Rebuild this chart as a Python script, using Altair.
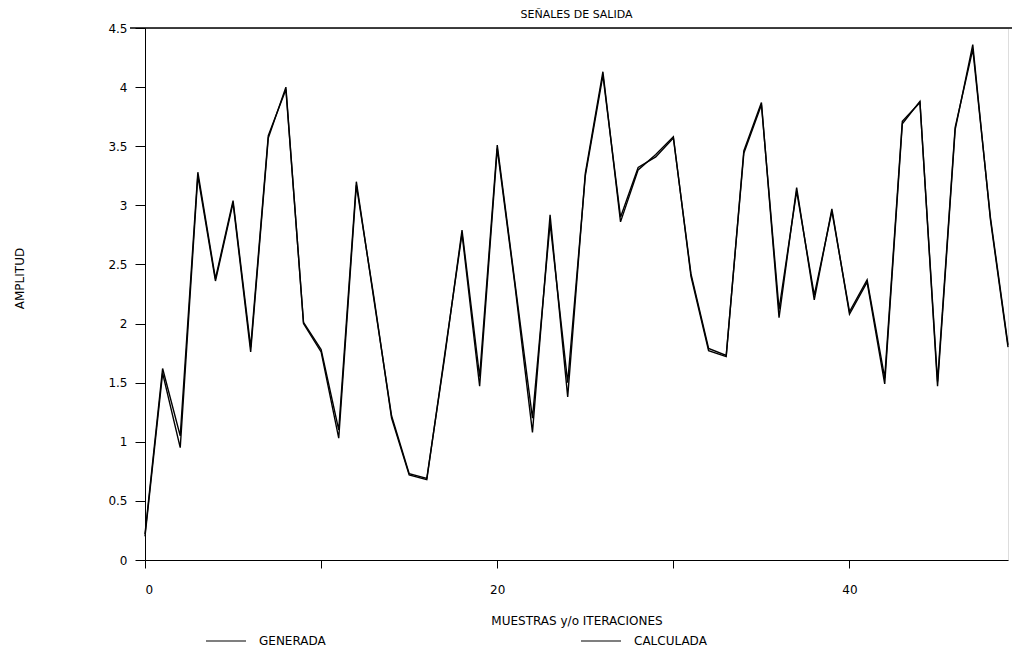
import altair as alt
import pandas as pd

muestras = list(range(50))
generada = [0.22, 1.62, 1.05, 3.28, 2.38, 3.04, 1.80, 3.59, 3.98, 2.01,
            1.78, 1.10, 3.20, 2.20, 1.22, 0.73, 0.69, 1.70, 2.79, 1.55,
            3.51, 2.35, 1.20, 2.85, 1.50, 3.25, 4.10, 2.90, 3.32, 3.41,
            3.57, 2.42, 1.79, 1.73, 3.44, 3.85, 2.12, 3.12, 2.24, 2.95,
            2.10, 2.37, 1.54, 3.71, 3.87, 1.51, 3.66, 4.32, 2.90, 1.82]
calculada = [0.20, 1.58, 0.95, 3.25, 2.36, 3.02, 1.76, 3.57, 4.00, 2.00,
             1.76, 1.03, 3.17, 2.22, 1.20, 0.72, 0.68, 1.72, 2.76, 1.47,
             3.48, 2.33, 1.08, 2.92, 1.38, 3.27, 4.13, 2.86, 3.30, 3.43,
             3.58, 2.40, 1.77, 1.72, 3.46, 3.87, 2.05, 3.15, 2.20, 2.97,
             2.08, 2.35, 1.49, 3.69, 3.88, 1.47, 3.64, 4.36, 2.88, 1.80]
series = ["GENERADA", "CALCULADA"]

rows = []
for i, x in enumerate(muestras):
    rows.append({"x": x, "y": generada[i], "serie": series[0]})
    rows.append({"x": x, "y": calculada[i], "serie": series[1]})
df = pd.DataFrame(rows)

FONT = "DejaVu Sans"

lines = alt.Chart(df).mark_line(strokeWidth=1.4).encode(
    x=alt.X("x:Q", scale=alt.Scale(domain=[0, 49], nice=False, zero=False),
            axis=alt.Axis(values=[0, 10, 20, 30, 40], title="MUESTRAS y/o ITERACIONES",
                          labelExpr="datum.value % 20 == 0 ? datum.label : ''",
                          grid=False, tickSize=8, labelPadding=16, titlePadding=20,
                          domainColor="black", tickColor="black", labelColor="black",
                          titleColor="black", labelFontSize=12, titleFontSize=12,
                          titleFontWeight="normal", labelFont=FONT, titleFont=FONT)),
    y=alt.Y("y:Q", scale=alt.Scale(domain=[0, 4.5], nice=False),
            axis=alt.Axis(values=[0, 0.5, 1, 1.5, 2, 2.5, 3, 3.5, 4, 4.5], title="AMPLITUD",
                          grid=False, tickSize=10, labelPadding=8, format="~g",
                          titleX=-126, titleY=250, titleAngle=270, titleBaseline="middle",
                          domainColor="black", tickColor="black", labelColor="black",
                          titleColor="black", labelFontSize=12, titleFontSize=12,
                          titleFontWeight="normal", labelFont=FONT, titleFont=FONT)),
    color=alt.Color("serie:N", scale=alt.Scale(domain=series, range=["black", "black"]),
                    sort=series,
                    legend=alt.Legend(title=None, orient="none", legendX=60, legendY=592,
                                      direction="horizontal", symbolType="stroke",
                                      symbolSize=1600, symbolStrokeWidth=1.2,
                                      columnPadding=252, labelFontSize=12, labelFont=FONT,
                                      labelColor="black", labelOffset=12)),
    detail="serie:N",
)

top = alt.Chart(pd.DataFrame({"y": [4.5]})).mark_rule(color="black", strokeWidth=1.5).encode(
    y="y:Q",
    x=alt.value(-15),
    x2=alt.value(880),
)

chart = alt.layer(lines, top).properties(
    width=863, height=532,
    title=alt.TitleParams("SEÑALES DE SALIDA", fontSize=11, font=FONT, fontWeight="normal",
                          color="black", offset=2),
    padding={"left": 137, "top": 20, "right": 4, "bottom": 96},
    autosize="none",
).configure_view(stroke=None).configure(background="white")

chart.save("out.html", embed_options={"renderer": "svg", "actions": False})
